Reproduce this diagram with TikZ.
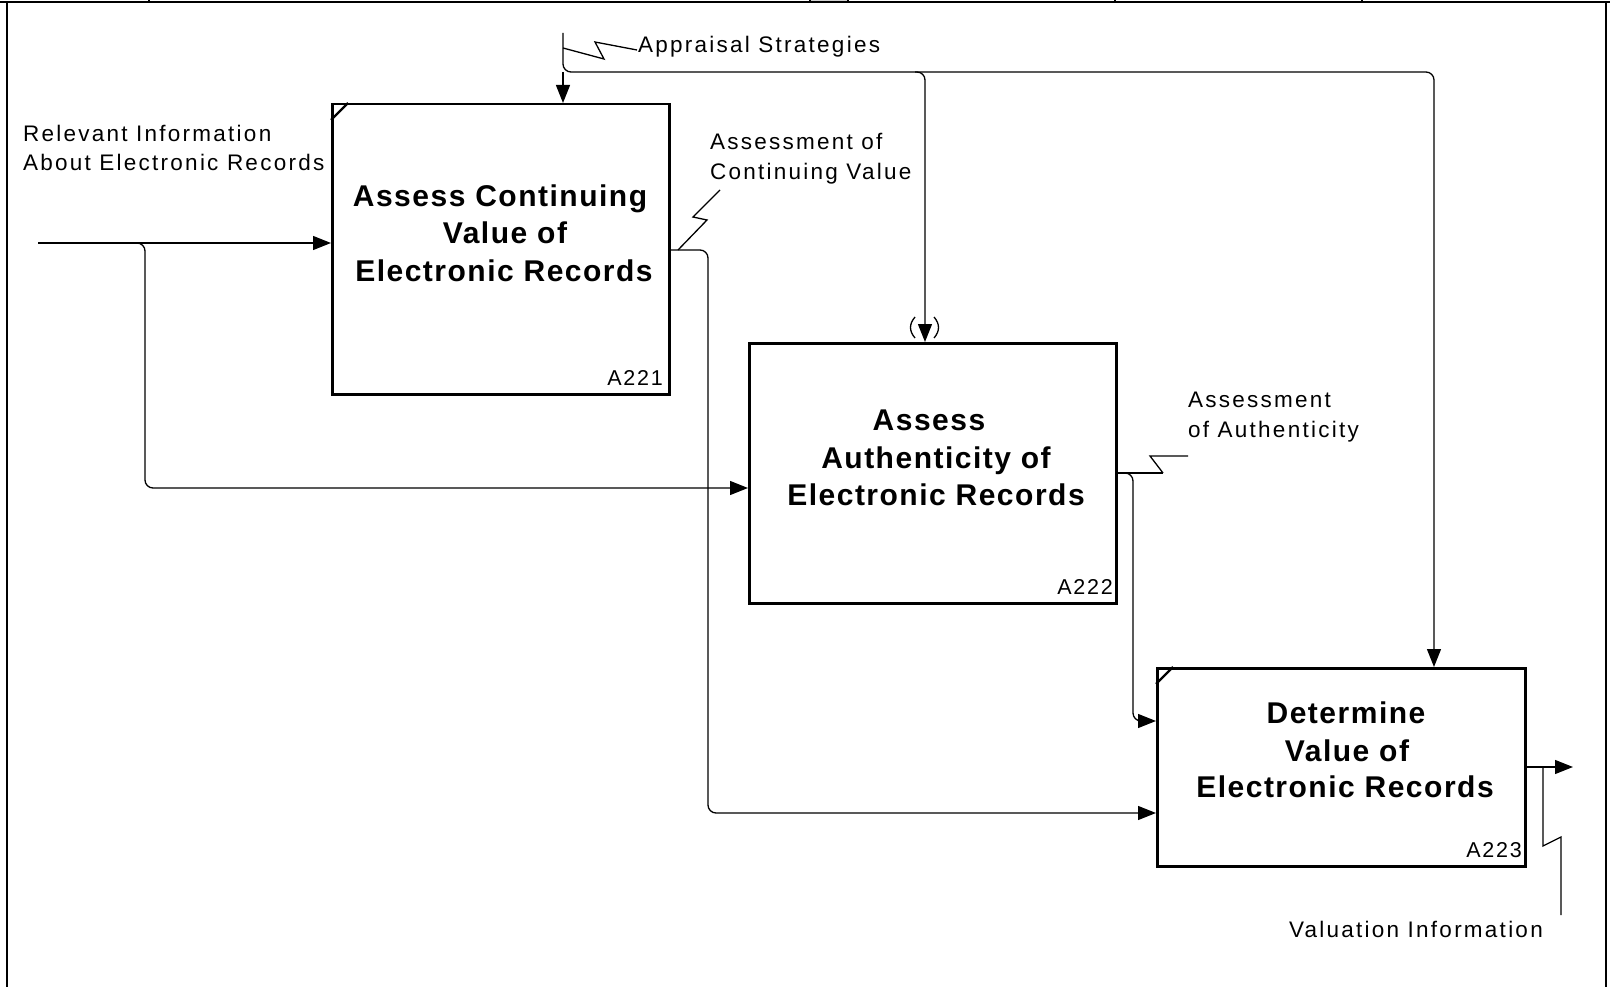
\documentclass[tikz,border=0pt]{standalone}
\usepackage{fontspec}
\setmainfont{Liberation Sans}
\newfontfamily\lblfont[LetterSpace=10]{Liberation Sans}
\newfontfamily\numfont[LetterSpace=8]{Liberation Sans}
\newfontfamily\ttlfont[LetterSpace=5]{Liberation Sans}
\usetikzlibrary{arrows.meta,calc}
\begin{document}
\begin{tikzpicture}[x=1pt,y=-1pt,
  box/.style={draw, line width=2.5pt, inner sep=0pt, anchor=north west},
  conn/.style={line width=1.3pt},
  arr/.style={conn, -{Triangle[length=18pt,width=14pt]}},
  rc/.style={rounded corners=8pt},
  lbl/.style={inner sep=0pt, font=\lblfont\fontsize{22.5}{27}\selectfont},
  ttl/.style={inner sep=0pt, anchor=base, font=\ttlfont\bfseries\fontsize{30}{36}\selectfont},
  num/.style={inner sep=0pt, anchor=base east, font=\numfont\fontsize{21.5}{26}\selectfont},
  frame/.style={line width=1.6pt}]
\useasboundingbox (0,0) rectangle (1610,987);
% frame
\fill[gray!35] (810,0) rectangle (848,2);
\draw[frame] (0,2) -- (1610,2);
\draw[frame] (7,2) -- (7,987);
\draw[frame] (1606,2) -- (1606,987);
\foreach \x in {149,810,848,1115,1362} \draw[line width=1.2pt] (\x,0) -- (\x,2);
% boxes
\node[box, minimum width=337pt, minimum height=290pt] (b1) at (331,103) {};
\node[box, minimum width=367pt, minimum height=260pt] (b2) at (748,342) {};
\node[box, minimum width=368pt, minimum height=198pt] (b3) at (1156,667) {};
\draw[line width=2.4pt] ($(b1.north west)+(0,17)$) -- ($(b1.north west)+(17,0)$);
\draw[line width=2.4pt] ($(b3.north west)+(0,17)$) -- ($(b3.north west)+(17,0)$);
% box texts
\node[ttl] (t1a) at (500,207) {Assess Continuing};
\node[ttl] (t1b) at (505,244) {Value of};
\node[ttl] (t1c) at (504,282) {Electronic Records};
\node[ttl] (t2a) at (929,430) {Assess};
\node[ttl] (t2b) at (936,468) {Authenticity of};
\node[ttl] (t2c) at (936,505) {Electronic Records};
\node[ttl] (t3a) at (1346,723) {Determine};
\node[ttl] (t3b) at (1347,761) {Value of};
\node[ttl] (t3c) at (1345,797) {Electronic Records};
\node[num] (n1) at (663,385) {A221};
\node[num] (n2) at (1113,594) {A222};
\node[num] (n3) at (1522,857) {A223};
% input
\coordinate (i1) at (38,243);
\draw[arr] (i1) -- (i1 -| b1.west);
\coordinate (br1a) at (130,243);
\coordinate (br1b) at (145,243);
\coordinate (br1c) at (145,488);
\draw[arr, rc] (br1a) -- (br1b) -- (br1c) -- (br1c -| b2.west);
\node[lbl, anchor=base west] (l1a) at (23,142) {Relevant Information};
\node[lbl, anchor=base west] (l1b) at (23,171) {About Electronic Records};
% control
\coordinate (c0) at (563,33);
\coordinate (c1) at (563,72);
\coordinate (c2) at (1434,72);
\coordinate (c3) at (915,72);
\coordinate (c4) at (925,72);
\draw[arr, rc] (c0) -- (c1) -- (c2) -- (c2 |- b3.north);
\draw[arr] (c1) -- (c1 |- b1.north);
\draw[arr, rc] (c3) -- (c4) -- (c4 |- b2.north);
\draw[conn] (915,317) .. controls (909,324) and (909,331) .. (915,338);
\draw[conn] (934,317) .. controls (940,324) and (940,331) .. (934,338);
\coordinate (s1a) at (563,48);
\coordinate (s1b) at (637,50);
\draw[conn] (s1a) -- (604,59) -- (595,42) -- (s1b);
\node[lbl, anchor=base west] (l2) at (638,53) {Appraisal Strategies};
% output 1
\coordinate (o1a) at (708,250);
\coordinate (o1b) at (708,813);
\draw[arr, rc] (b1.east |- o1a) -- (o1a) -- (o1b) -- (o1b -| b3.west);
\coordinate (s2a) at (678,250);
\coordinate (s2b) at (720,190);
\draw[conn] (s2a) -- (707,220) -- (693,217) -- (s2b);
\node[lbl, anchor=base west] (l3a) at (710,150) {Assessment of};
\node[lbl, anchor=base west] (l3b) at (710,180) {Continuing Value};
% output 2
\coordinate (o2s) at (1163,473);
\coordinate (o2a) at (1133,473);
\coordinate (o2b) at (1133,721);
\draw[conn] (b2.east |- o2s) -- (o2s);
\draw[arr, rc] (1120,473) -- (o2a) -- (o2b) -- (o2b -| b3.west);
\coordinate (s3b) at (1188,456);
\draw[conn] (o2s) -- (1150,456) -- (s3b);
\node[lbl, anchor=base west] (l4a) at (1188,407) {Assessment};
\node[lbl, anchor=base west] (l4b) at (1188,437) {of Authenticity};
% output 3
\coordinate (o3) at (1573,767);
\draw[arr] (b3.east |- o3) -- (o3);
\coordinate (s4a) at (1543,767);
\coordinate (s4b) at (1561,915);
\draw[conn] (s4a) -- (1543,846) -- (1561,837) -- (s4b);
\node[lbl, anchor=base east] (l5) at (1543,937) {Valuation Information};
\end{tikzpicture}
\end{document}
